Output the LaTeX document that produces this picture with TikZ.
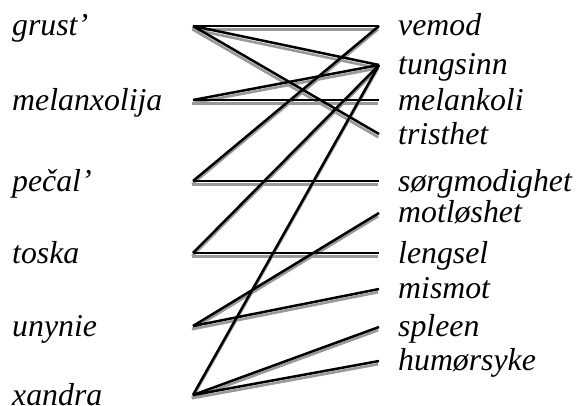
\documentclass[tikz,border=0pt]{standalone}
\usepackage{fontspec}
\setmainfont{Liberation Serif}
\begin{document}
\begin{tikzpicture}[x=1pt,y=-1pt,
  lab/.style={anchor=base west, inner sep=0pt, font=\fontsize{31.8}{31.8}\selectfont\itshape},
  shade/.style={draw=black!40, line width=2.6pt},
  conn/.style={draw=black, line width=2.5pt}]
\useasboundingbox (0,0) rectangle (577,405);
% left endpoints
\coordinate (L1) at (193,26);
\coordinate (L2) at (193,100);
\coordinate (L3) at (193,181);
\coordinate (L4) at (193,253);
\coordinate (L5) at (193,326);
\coordinate (L6) at (193,395);
% right endpoints
\coordinate (R1) at (379,26);
\coordinate (R2) at (379,65);
\coordinate (R3) at (379,100);
\coordinate (R4) at (379,134);
\coordinate (R5) at (379,181);
\coordinate (R6) at (379,213);
\coordinate (R7) at (379,253);
\coordinate (R8) at (379,289);
\coordinate (R9) at (379,327);
\coordinate (R10) at (379,361);
% left labels
\node[lab] (grust) at (12,35) {grust’};
\node[lab] (melanx) at (12,110) {melanxolija};
\node[lab] (pecal) at (12,191) {pečal’};
\node[lab] (toska) at (12,263) {toska};
\node[lab] (unynie) at (12,336) {unynie};
\node[lab] (xandra) at (12,405) {xandra};
% right labels
\node[lab] (vemod) at (398,35) {vemod};
\node[lab] (tungsinn) at (398,74) {tungsinn};
\node[lab] (melankoli) at (398,110) {melankoli};
\node[lab] (tristhet) at (398,144) {tristhet};
\node[lab] (sorg) at (398,191) {sørgmodighet};
\node[lab] (motl) at (398,222) {motløshet};
\node[lab] (lengsel) at (398,263) {lengsel};
\node[lab] (mismot) at (398,298) {mismot};
\node[lab] (spleen) at (398,336) {spleen};
\node[lab] (humor) at (398,370) {humørsyke};
% shadows
\foreach \a/\b in {L1/R1,L1/R2,L1/R4,L2/R2,L2/R3,L3/R1,L3/R5,L4/R2,L4/R7,L5/R6,L5/R8,L6/R2,L6/R9,L6/R10}
  \draw[shade] ([xshift=-0.8pt,yshift=-3.2pt]\a) -- ([xshift=-0.8pt,yshift=-3.2pt]\b);
% black connectors
\foreach \a/\b in {L1/R1,L1/R2,L1/R4,L2/R2,L2/R3,L3/R1,L3/R5,L4/R2,L4/R7,L5/R6,L5/R8,L6/R2,L6/R9,L6/R10}
  \draw[conn] (\a) -- (\b);
\end{tikzpicture}
\end{document}
